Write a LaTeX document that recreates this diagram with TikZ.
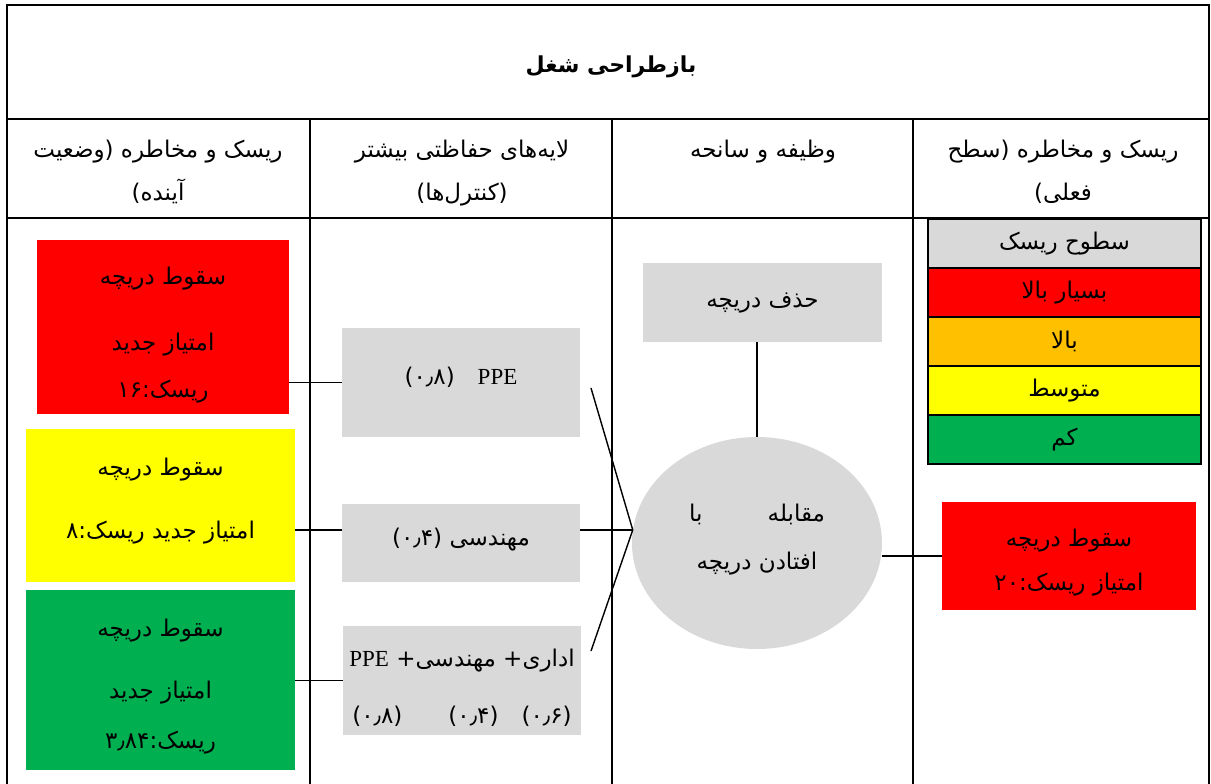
\documentclass[tikz,border=0pt]{standalone}
\usepackage{fontspec}
\setmainfont{Liberation Serif}
\newfontfamily\arabicfont[Script=Arabic]{DejaVu Sans}
\TeXXeTstate=1
\usetikzlibrary{shapes.geometric}
\newcommand{\fa}[1]{\beginR #1\endR}
\definecolor{rred}{HTML}{FF0000}
\definecolor{ryellow}{HTML}{FFFF00}
\definecolor{rgreen}{HTML}{00B050}
\definecolor{rorange}{HTML}{FFC000}
\definecolor{lgray}{HTML}{D9D9D9}
\tikzset{grid/.style = {line width = 2pt},
  conn/.style = {line width = 1.4pt},
  txt/.style = {align = center, inner sep = 0, font = \arabicfont\fontsize{23}{30}\selectfont},
  head/.style = {txt, anchor = north},
  title/.style = {txt, font = \arabicfont\bfseries\fontsize{22}{30}\selectfont},
  box/.style = {rectangle, inner sep = 0, fill = #1},
  legrow/.style = {txt, draw, line width = 1.6pt, fill = #1, minimum width = 273, minimum height = 49}}

\begin{document}
\begin{tikzpicture}[x=1pt, y=-1pt]
      \useasboundingbox (0, 0) rectangle (1211, 784);
      \draw [grid] (7, 784) -- (7, 5) -- (1209, 5) -- (1209, 784);
      \draw [grid] (7, 119) -- (1209, 119) (7, 218) -- (1209, 218);
      \foreach \x in {310, 612, 913}
        \draw [grid] (\x, 119) -- (\x, 784);

      \node [title] (title) at (611, 67) {\fa{بازطراحی شغل}};
      \node [head] (future) at (158, 140) {\fa{ریسک و مخاطره (وضعیت}\\[13pt]\fa{آینده)}};
      \node [head] (layers) at (462, 140) {\fa{لایه‌های حفاظتی بیشتر}\\[13pt]\fa{(کنترل‌ها)}};
      \node [head] (task) at (763, 140) {\fa{وظیفه و سانحه}};
      \node [head] (current) at (1063, 140) {\fa{ریسک و مخاطره (سطح}\\[13pt]\fa{فعلی)}};

      \node [box = rred, minimum width = 252, minimum height = 174] (fut1) at (163, 327) {};
      \node [txt] (fut1t) at ([yshift = -8pt] fut1.center)
        {\fa{سقوط دریچه}\\[36pt]\fa{امتیاز جدید}\\[17pt]\fa{ریسک:۱۶}};
      \node [box = ryellow, minimum width = 269, minimum height = 153] (fut2) at (160.5, 505.5) {};
      \node [txt] (fut2t) at ([yshift = 4pt] fut2.center)
        {\fa{سقوط دریچه}\\[33pt]\fa{امتیاز جدید ریسک:۸}};
      \node [box = rgreen, minimum width = 269, minimum height = 180] (fut3) at (160.5, 680) {};
      \node [txt] (fut3t) at ([yshift = -7pt] fut3.center)
        {\fa{سقوط دریچه}\\[32pt]\fa{امتیاز جدید}\\[20pt]\fa{ریسک:۳٫۸۴}};

      \node [box = lgray, minimum width = 238, minimum height = 109] (ppe) at (461, 382.5) {};
      \node [txt] (ppet) at ([yshift = 5pt] ppe.center) {\fa{\beginL{\rmfamily PPE}\endL\quad(۰٫۸)}};
      \node [box = lgray, minimum width = 238, minimum height = 78] (eng) at (461, 543) {};
      \node [txt] (engt) at ([yshift = 3pt] eng.center) {\fa{مهندسی (۰٫۴)}};
      \node [box = lgray, minimum width = 238, minimum height = 109] (adm) at (462, 680.5) {};
      \node [txt] (admt) at ([yshift = -7pt] adm.center)
        {\fa{اداری+ مهندسی+ \beginL{\rmfamily PPE}\endL}\\[27pt]\fa{(۰٫۶)\quad(۰٫۴)\qquad(۰٫۸)}};

      \node [box = lgray, minimum width = 239, minimum height = 79] (remove) at (762.5, 302.5) {};
      \node [txt] (removet) at ([yshift = -1pt] remove.center) {\fa{حذف دریچه}};
      \node [ellipse, inner sep = 0, fill = lgray, minimum width = 250, minimum height = 212] (fall) at (757, 543) {};
      \node [txt] (fallt) at ([yshift = 3pt] fall.center)
        {\hbox to 136pt{\beginR مقابله\hfill با\endR}\\[18pt]\fa{افتادن دریچه}};

      \node [legrow = lgray] (lv0) at (1064.5, 244) {\fa{سطوح ریسک}};
      \node [legrow = rred] (lv1) at (1064.5, 292.5) {\fa{بسیار بالا}};
      \node [legrow = rorange] (lv2) at (1064.5, 341.5) {\fa{بالا}};
      \node [legrow = ryellow] (lv3) at (1064.5, 390.5) {\fa{متوسط}};
      \node [legrow = rgreen] (lv4) at (1064.5, 439.5) {\fa{کم}};
      \node [box = rred, minimum width = 254, minimum height = 108] (now) at (1069, 556) {};
      \node [txt] (nowt) at ([yshift = -7pt] now.center)
        {\fa{سقوط دریچه}\\[14pt]\fa{امتیاز ریسک:۲۰}};

      \coordinate (meet) at (fall.174);
      \coordinate (ppeend) at (591, 388);
      \coordinate (admend) at (591, 651);
      \draw [conn] (fut1.east |- ppe.west) -- (ppe.west);
      \draw [conn] (fut2.east |- meet) -- (eng.west |- meet);
      \draw [conn] (fut3.east |- adm.west) -- (adm.west);
      \draw [conn] (ppeend) -- (meet) -- (admend);
      \draw [conn] (eng.east |- meet) -- (meet);
      \draw [conn] (remove.south -| fall.north) -- (fall.north);
      \draw [conn] (fall.east |- now.west) -- (now.west);
    \end{tikzpicture}
\end{document}
